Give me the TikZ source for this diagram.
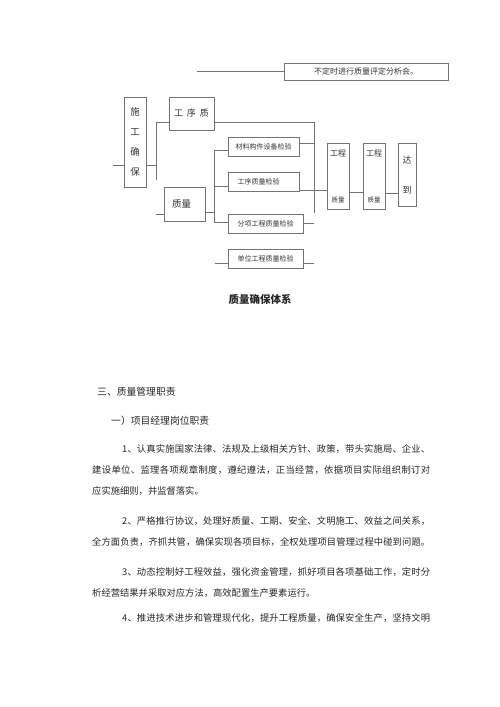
\documentclass[tikz,border=0pt]{standalone}
\usepackage{fontspec}
\setmainfont{Noto Sans CJK SC}
\usetikzlibrary{calc}

% spread one line of text over a given width
\newcommand{\fillline}[2]{\hbox to #1{\fillfirst#2\relax}}
\def\fillfirst#1{#1\fillnext}
\def\fillnext#1{\ifx\relax#1\else\hfil#1\expandafter\fillnext\fi}

\begin{document}
\begin{tikzpicture}[x=1pt,y=-1pt,
  box/.style={draw=black!55,line width=0.7pt,inner sep=0pt,align=center,text=black!80},
  link/.style={draw=black!55,line width=0.7pt},
  body/.style={anchor=west,inner sep=0pt,text=black!85,font=\fontsize{9.3}{11}\selectfont}]

% Page
\useasboundingbox (0,0) rectangle (500,707);

% Boxes
\node[box,minimum width=164,minimum height=17,font=\fontsize{8}{8}\selectfont] (meet) at (366,71.5) {不定时进行质量评定分析会。};
\node[box,minimum width=22,minimum height=90,font=\fontsize{9.5}{20}\selectfont] (sgqb) at (135,142) {施\\工\\确\\保};
\node[box,minimum width=45,minimum height=33,font=\fontsize{9}{9}\selectfont] (gxz) at (191.5,113.5) {工\hspace{4pt}序\hspace{4pt}质};
\node[box,minimum width=41,minimum height=34,font=\fontsize{9.5}{9.5}\selectfont] (zl) at (184.5,204) {质量\hspace{6pt}};
\node[box,minimum width=71,minimum height=19,font=\fontsize{7}{7}\selectfont] (clj) at (263.5,146.5) {材料构件设备检验};
\node[box,minimum width=71,minimum height=19,font=\fontsize{7}{7}\selectfont] (gxj) at (263.5,181.5) {工序质量检验\hspace{10pt}};
\node[box,minimum width=75,minimum height=19,font=\fontsize{7}{7}\selectfont] (fxj) at (265.5,223.5) {分项工程质量检验};
\node[box,minimum width=75,minimum height=19,font=\fontsize{7}{7}\selectfont] (dwj) at (265.5,258.5) {单位工程质量检验};
\node[box,minimum width=22,minimum height=66] (gc1) at (338,176) {{\fontsize{8}{8}\selectfont 工程}\\[34pt]{\fontsize{6.5}{6.5}\selectfont 质量}};
\node[box,minimum width=22,minimum height=66] (gc2) at (374,176) {{\fontsize{8}{8}\selectfont 工程}\\[34pt]{\fontsize{6.5}{6.5}\selectfont 质量}};
\node[box,minimum width=18,minimum height=63,font=\fontsize{9}{30}\selectfont] (dd) at (407,174.5) {达\\到};

% Junction points
\coordinate (topL) at (197,71.5);
\coordinate (inL) at (113,165);
\coordinate (busA) at (156,122);
\coordinate (busB) at (156,180);
\coordinate (busC) at (156,165);
\coordinate (busD) at (314,122);
\coordinate (busE) at (314,213);
\coordinate (rA) at (314,143);
\coordinate (rB) at (314,190);
\coordinate (rC) at (314,223);
\coordinate (rD) at (314,263);
\coordinate (gA) at (356,192);
\coordinate (gB) at (390,193);
\coordinate (busF) at (214,150);
\coordinate (busG) at (214,222);
\coordinate (busH) at (214,212);
\coordinate (mB) at (214,186);
\coordinate (zlL) at (156,214);
\coordinate (dwL) at (215,263);

% Left part
\draw[link] (topL) -- (meet.west);
\draw[link] (inL) -- (inL -| sgqb.west);
\draw[link] (sgqb.east |- busC) -- (busC);
\draw[link] (busA) -- (busB);
\draw[link] (busA) -- (busA -| gxz.west);
\draw[link] (zlL) -- (zlL -| zl.west);

% Middle part
\draw[link] (busF) -- (busG);
\draw[link] (zl.east |- busH) -- (busH);
\draw[link] (busF) -- (busF -| clj.west);
\draw[link] (mB) -- (mB -| gxj.west);
\draw[link] (busG) -- (busG -| fxj.west);
\draw[link] (dwL) -- (dwL -| dwj.west);

% Right part
\draw[link] (gxz.east |- busD) -- (busD) -- (busE);
\draw[link] (clj.east |- rA) -- (rA);
\draw[link] (gxj.east |- rB) -- (rB -| gc1.west);
\draw[link] (fxj.east |- rC) -- (rC);
\draw[link] (dwj.east |- rD) -- (rD);
\draw[link] (gc1.east |- gA) -- (gc2.west |- gA);
\draw[link] (gc2.east |- gB) -- (dd.west |- gB);

% Caption
\node[inner sep=0pt,font=\fontsize{10.5}{10.5}\selectfont\bfseries,text=black!85] (cap) at (260,299) {质量确保体系};

% Text
\node[body,font=\fontsize{9.8}{11}\selectfont] (t1) at (97,392) {三、质量管理职责};
\node[body,font=\fontsize{9.8}{11}\selectfont] (t2) at (111,421) {一）项目经理岗位职责};
\node[body] (t3) at (122,449) {\fillline{308pt}{1、认真实施国家法律、法规及上级相关方针、政策，带头实施局、企业、}};
\node[body] (t4) at (92,470) {\fillline{338pt}{建设单位、监理各项规章制度，遵纪遵法，正当经营，依据项目实际组织制订对}};
\node[body] (t5) at (92,491) {应实施细则，并监督落实。};
\node[body] (t6) at (122,521) {\fillline{308pt}{2、严格推行协议，处理好质量、工期、安全、文明施工、效益之间关系，}};
\node[body] (t7) at (92,542) {\fillline{338pt}{全方面负责，齐抓共管，确保实现各项目标，全权处理项目管理过程中碰到问题。}};
\node[body] (t8) at (122,572) {\fillline{308pt}{3、动态控制好工程效益，强化资金管理，抓好项目各项基础工作，定时分}};
\node[body] (t9) at (92,593) {析经营结果并采取对应方法，高效配置生产要素运行。};
\node[body] (t10) at (122,618) {\fillline{308pt}{4、推进技术进步和管理现代化，提升工程质量，确保安全生产，坚持文明}};

\end{tikzpicture}
\end{document}
